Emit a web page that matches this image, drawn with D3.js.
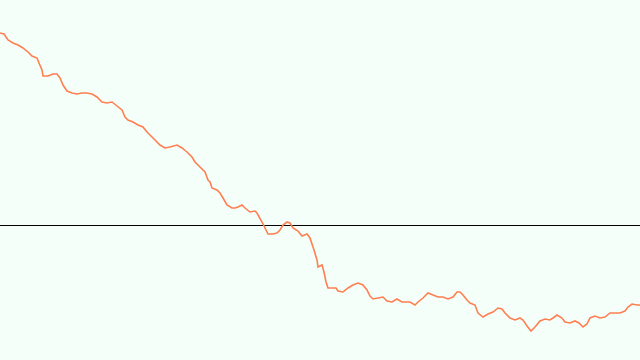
<!DOCTYPE html>
<html><head><meta charset="utf-8">
<script src="https://cdn.jsdelivr.net/npm/d3@7"></script>
<style>html,body{margin:0;padding:0;background:#f5fffa;}svg{display:block;}</style>
</head><body>
<script>
const steps = [0,4,8,13,18,23,28,32,37,39,42,43,48,53,57,60,63,67,72,77,82,87,92,97,102,107,112,117,122,125,128,133,138,143,147,152,155,160,165,170,177,182,187,192,195,200,205,208,210,212,217,220,223,227,232,235,238,242,245,250,255,257,262,265,268,273,277,280,283,287,290,293,298,302,307,310,313,314,317,318,322,324,326,328,333,336,338,343,348,353,358,363,367,370,373,378,383,387,392,397,402,407,410,415,418,423,428,433,438,443,448,453,457,460,463,467,470,475,478,483,488,493,498,502,505,510,515,520,523,527,531,535,540,545,550,553,557,562,565,570,575,579,583,587,590,595,600,605,610,615,620,625,628,632,637,640];
const values = [192,191,185,182,180,177,173,169,167,162,155,149,149,151,151,147,140,134,132,131,132,132,131,128,123,122,123,119,115,108,105,103,100,98,93,88,85,80,77,78,80,77,73,68,63,58,53,45,43,37,35,32,27,20,17,17,18,20,17,13,14,12,3,-3,-9,-9,-8,-5,0,3,2,-3,-6,-11,-9,-13,-22,-25,-35,-42,-40,-47,-57,-63,-63,-63,-66,-67,-63,-60,-58,-60,-65,-71,-74,-73,-72,-76,-77,-74,-77,-77,-77,-80,-77,-73,-68,-70,-72,-72,-74,-72,-67,-67,-70,-75,-78,-80,-88,-92,-89,-87,-83,-84,-88,-93,-95,-93,-95,-101,-106,-102,-96,-94,-95,-93,-90,-93,-97,-98,-96,-98,-102,-99,-93,-91,-93,-92,-88,-88,-88,-86,-82,-79,-80,-80];
const baseline = 0;

const W = 640, H = 360;
const svg = d3.select("body").append("svg").attr("width", W).attr("height", H);
svg.append("rect").attr("width", W).attr("height", H).attr("fill", "#f5fffa");

const x = d3.scaleLinear().domain([0, 640]).range([0, W]);
const y = d3.scaleLinear().domain([-135, 225]).range([H, 0]);

svg.append("line")
  .attr("x1", 0).attr("x2", W)
  .attr("y1", y(baseline) + 0.5).attr("y2", y(baseline) + 0.5)
  .attr("stroke", "#000").attr("stroke-width", 1);

const data = steps.map((s, i) => [s, values[i]]);
svg.append("path")
  .datum(data)
  .attr("fill", "none")
  .attr("stroke", "#ff7f50")
  .attr("stroke-width", 1.6)
  .attr("d", d3.line().x(d => x(d[0])).y(d => y(d[1])));
</script>
</body></html>
